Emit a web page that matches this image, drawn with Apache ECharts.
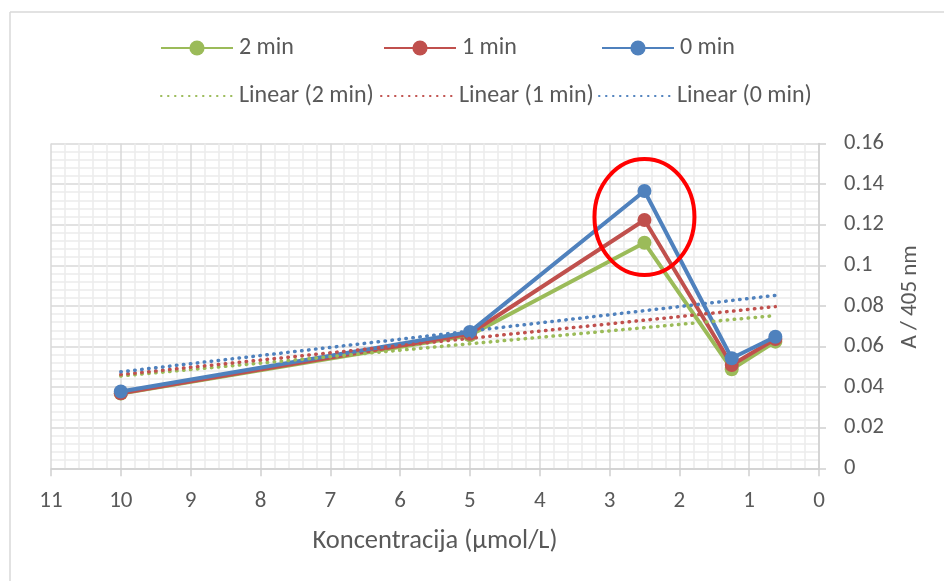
<!DOCTYPE html>
<html>
<head>
<meta charset="utf-8">
<script src="https://cdn.jsdelivr.net/npm/echarts@6/dist/echarts.min.js"></script>
<style>
html,body{margin:0;padding:0;background:#fff;}
#chart{width:944px;height:581px;}
</style>
</head>
<body>
<div id="chart"></div>
<script>
// Concentrations (µmol/L)
var concentrations = [10, 5, 2.5, 1.25, 0.625];
// Absorbance at 405 nm
var values2min = [0.0368, 0.0655, 0.1111, 0.0488, 0.0624];
var values1min = [0.0370, 0.0663, 0.1223, 0.0509, 0.0637];
var values0min = [0.0378, 0.0672, 0.1366, 0.0542, 0.0648];
var seriesNames = ['2 min', '1 min', '0 min'];
var trendNames = ['Linear (2 min)', 'Linear (1 min)', 'Linear (0 min)'];
var colors = ['#9BBB59', '#C0504D', '#4F81BD'];
var FONT = 'Carlito, Calibri, Lato, sans-serif';

function pairs(xs, ys) { return xs.map(function (x, i) { return [x, ys[i]]; }); }
// least-squares linear trendline (as Excel "Linear" trendline), drawn over the data's x range
function trend(xs, ys) {
  var n = xs.length, mx = 0, my = 0;
  for (var i = 0; i < n; i++) { mx += xs[i]; my += ys[i]; }
  mx /= n; my /= n;
  var sxy = 0, sxx = 0;
  for (i = 0; i < n; i++) { sxy += (xs[i] - mx) * (ys[i] - my); sxx += (xs[i] - mx) * (xs[i] - mx); }
  var b = sxy / sxx, a = my - b * mx;
  var x0 = Math.min.apply(null, xs), x1 = Math.max.apply(null, xs);
  return [[x1, a + b * x1], [x0, a + b * x0]];
}

var allValues = [values2min, values1min, values0min];
var chart = echarts.init(document.getElementById('chart'), null, {renderer: 'canvas'});

var series = [];
allValues.forEach(function (vals, i) {
  series.push({
    name: seriesNames[i], type: 'line', data: pairs(concentrations, vals),
    symbol: 'circle', symbolSize: 14, z: 3 + i,
    lineStyle: {color: colors[i], width: 4},
    itemStyle: {color: colors[i]},
    emphasis: {disabled: true}, animation: false
  });
});
allValues.forEach(function (vals, i) {
  series.push({
    name: trendNames[i], type: 'line', data: trend(concentrations, vals),
    symbol: 'none', z: 7 + i,
    lineStyle: {color: colors[i], width: 3.5, type: [0.5, 6.5], cap: 'round'},
    itemStyle: {color: colors[i]},
    emphasis: {disabled: true}, animation: false
  });
});

function legendAt(name, left, top, noSymbol) {
  var l = {
    data: [name], left: left, top: top, itemWidth: 72, itemHeight: 19, itemGap: 0,
    padding: 0, selectedMode: false,
    textStyle: {fontFamily: FONT, fontSize: 24, color: '#595959', padding: [0, 0, 0, 1]}
  };
  if (noSymbol) l.itemStyle = {opacity: 0};
  return l;
}

var option = {
  animation: false,
  backgroundColor: '#ffffff',
  color: colors,
  legend: [
    legendAt('2 min', 160, 36), legendAt('1 min', 383, 36), legendAt('0 min', 601, 36),
    legendAt('Linear (2 min)', 160, 84, true), legendAt('Linear (1 min)', 380, 84, true), legendAt('Linear (0 min)', 598, 84, true)
  ],
  grid: {left: 51, right: 125, top: 143.5, bottom: 112.7, containLabel: false},
  xAxis: {
    type: 'value', inverse: true, min: 0, max: 11, interval: 1,
    name: 'Koncentracija (µmol/L)', nameLocation: 'middle', nameGap: 60,
    nameTextStyle: {fontFamily: FONT, fontSize: 26.5, color: '#595959'},
    axisLine: {show: true, lineStyle: {color: '#d0d0d0', width: 1.5}},
    axisTick: {show: true, length: 8, lineStyle: {color: '#d0d0d0', width: 1.5}},
    axisLabel: {fontFamily: FONT, fontSize: 23, color: '#595959', margin: 21},
    splitLine: {show: true, lineStyle: {color: '#d9d9d9', width: 1.5}},
    minorTick: {show: false, splitNumber: 5},
    minorSplitLine: {show: true, lineStyle: {color: '#ececec', width: 1.5}}
  },
  yAxis: {
    type: 'value', position: 'right', min: 0, max: 0.16, interval: 0.02,
    name: 'A / 405 nm', nameLocation: 'middle', nameGap: 80,
    nameTextStyle: {fontFamily: FONT, fontSize: 23, color: '#595959', padding: [0, 0, 0, 18]},
    axisLine: {show: true, lineStyle: {color: '#d0d0d0', width: 1.5}},
    axisTick: {show: true, length: 7, lineStyle: {color: '#d0d0d0', width: 1.5}},
    axisLabel: {fontFamily: FONT, fontSize: 22.5, color: '#595959', margin: 25},
    splitLine: {show: true, lineStyle: {color: '#d9d9d9', width: 1.5}},
    minorTick: {show: false, splitNumber: 5},
    minorSplitLine: {show: true, lineStyle: {color: '#ececec', width: 1.5}}
  },
  series: series
};
chart.setOption(option);

// Annotation: red ellipse highlighting the peak at 2.5 µmol/L
var peakCenter = chart.convertToPixel({gridIndex: 0}, [2.5, 0.1238]);
chart.setOption({
  graphic: [
    {type: 'line', shape: {x1: 10, y1: 12, x2: 944, y2: 12}, style: {stroke: '#d9d9d9', lineWidth: 1.5}, z: 100},
    {type: 'line', shape: {x1: 10, y1: 12, x2: 10, y2: 581}, style: {stroke: '#d9d9d9', lineWidth: 1.5}, z: 100},
    {type: 'ellipse', shape: {cx: peakCenter[0], cy: peakCenter[1], rx: 50, ry: 58},
     style: {fill: null, stroke: '#FF0000', lineWidth: 4}, z: 100}
  ]
});
</script>
</body>
</html>
